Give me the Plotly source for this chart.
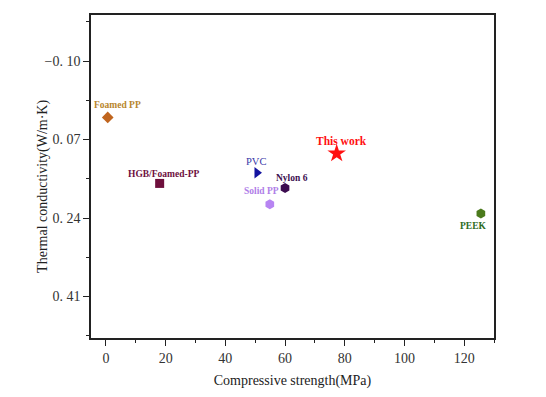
import plotly.graph_objects as go

names = ["Foamed PP", "HGB/Foamed-PP", "PVC", "Nylon 6", "Solid PP", "This work", "PEEK"]
strength = [0.6, 18.0, 50.6, 60.0, 54.9, 77.3, 125.6]
conductivity = [0.022, 0.165, 0.142, 0.175, 0.21, 0.10, 0.23]
symbols = ["diamond", "square", "triangle-right", "hexagon", "hexagon", "star", "hexagon"]
marker_colors = ["#C0651E", "#6E0F3C", "#1414A0", "#3C0C50", "#B784F2", "#FF1010", "#4B7A1C"]
label_colors = ["#B8862E", "#6E1040", "#3838A8", "#3C1050", "#B07EE8", "#FF1010", "#2E6B1E"]
label_bold = [True, True, False, True, True, True, True]
label_sizes = [9.5, 9.5, 10.5, 9.5, 9.5, 11.5, 9.5]
label_dx = [10, 4, -1, 7, -8, 5, -8]
label_dy = [-12, -9, -11, -10, -13, -12, 13]
marker_sizes = [9, 9, 10, 10, 10, 14, 10]

ytickvals = [-0.10, 0.07, 0.24, 0.41]
yticktext = ["\u22120. 10", "0. 07", "0. 24", "0. 41"]
xtickvals = [0, 20, 40, 60, 80, 100, 120]

fig = go.Figure()
for i, n in enumerate(names):
    fig.add_trace(go.Scatter(
        x=[strength[i]], y=[conductivity[i]], mode="markers",
        marker=dict(symbol=symbols[i], size=marker_sizes[i], color=marker_colors[i],
                    line=dict(width=0)),
        name=n, showlegend=False))
    txt = f"<b>{n}</b>" if label_bold[i] else n
    fig.add_annotation(x=strength[i], y=conductivity[i], text=txt, showarrow=False,
                       xshift=label_dx[i], yshift=-label_dy[i],
                       font=dict(family="Liberation Serif", size=label_sizes[i], color=label_colors[i]))

axis_common = dict(showline=True, linecolor="#222", linewidth=1.5, mirror=True,
                   showgrid=False, zeroline=False, ticks="outside", ticklen=6,
                   tickwidth=1.2, tickcolor="#222",
                   tickfont=dict(family="Liberation Serif", size=14, color="#333"))

fig.update_xaxes(range=[-5, 130], tickvals=xtickvals,
                 minor=dict(tickvals=[10, 30, 50, 70, 90, 110, 130], ticks="outside", ticklen=3, tickcolor="#222"),
                 title=dict(text="Compressive strength(MPa)", standoff=11,
                            font=dict(family="Liberation Serif", size=14, color="#222")),
                 **axis_common)
fig.update_yaxes(range=[0.5, -0.2], tickvals=ytickvals, ticktext=yticktext,
                 minor=dict(tickvals=[-0.185, -0.015, 0.155, 0.325, 0.495], ticks="outside", ticklen=3, tickcolor="#222"),
                 **axis_common)

fig.add_annotation(text="Thermal conductivity(W/m\u00b7K)", xref="paper", yref="paper",
                   x=-0.119, y=0.468, xanchor="center", yanchor="middle", textangle=-90,
                   showarrow=False, font=dict(family="Liberation Serif", size=14, color="#222"))

fig.update_layout(width=546, height=397, margin=dict(l=83, r=60, t=5, b=67),
                  paper_bgcolor="white", plot_bgcolor="white")
fig.write_html("out.html")
